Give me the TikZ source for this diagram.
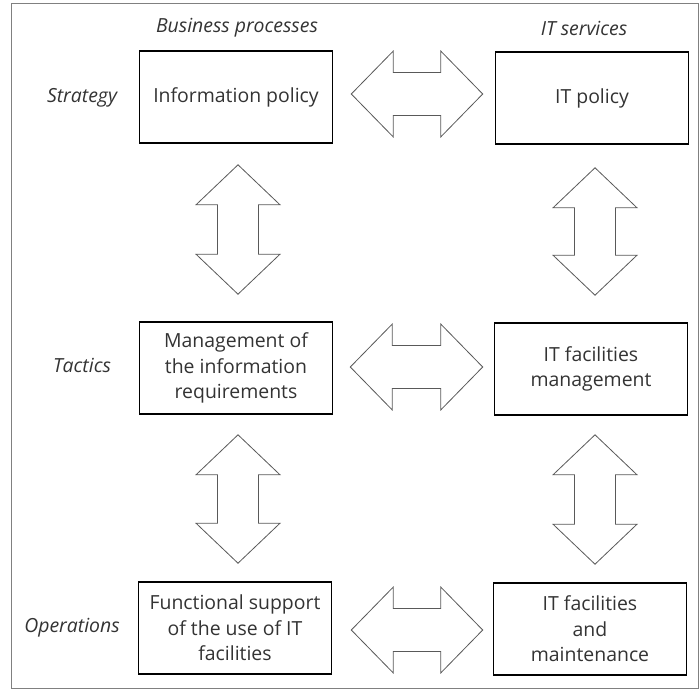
\documentclass[tikz,border=0pt]{standalone}
\usepackage{fontspec}
\setmainfont{Open Sans}
\usetikzlibrary{calc}

% Hollow double-headed block arrows between two tip points
\newcommand\hfat[2]{%
  \draw[fat] let \p1=(#1), \p2=(#2) in
    (\x1,\y1) -- (\x1+42bp,\y1+43bp) -- (\x1+42bp,\y1+21.5bp)
    -- (\x2-42bp,\y1+21.5bp) -- (\x2-42bp,\y1+43bp) -- (\x2,\y1)
    -- (\x2-42bp,\y1-43bp) -- (\x2-42bp,\y1-21.5bp)
    -- (\x1+42bp,\y1-21.5bp) -- (\x1+42bp,\y1-43bp) -- cycle;}
\newcommand\vfat[2]{%
  \draw[fat] let \p1=(#1), \p2=(#2) in
    (\x1,\y1) -- (\x1+42bp,\y1-40bp) -- (\x1+20.5bp,\y1-40bp)
    -- (\x1+20.5bp,\y2+40bp) -- (\x1+42bp,\y2+40bp) -- (\x1,\y2)
    -- (\x1-42bp,\y2+40bp) -- (\x1-20.5bp,\y2+40bp)
    -- (\x1-20.5bp,\y1-40bp) -- (\x1-42bp,\y1-40bp) -- cycle;}

\begin{document}
\begin{tikzpicture}[x=1bp,y=-1bp,
  box/.style={draw=black, line width=1.6bp, minimum width=193bp,
    minimum height=92bp, align=center, inner sep=0pt,
    font=\fontsize{19.5}{25.5}\selectfont, text=black!80},
  lbl/.style={font=\fontsize{19.5}{25.5}\selectfont\itshape, text=black!80},
  fat/.style={draw=black!65, line width=0.8bp, fill=white, line join=miter}]
\useasboundingbox (0,0) rectangle (700,691);
\draw[black!50, line width=1bp] (11,4) rectangle (698,688);

% column and row headings
\node[lbl] (bp)  at (237,28) {Business processes};
\node[lbl] (its) at (584,28) {IT services};
\node[lbl] (st)  at (82,98)  {Strategy};
\node[lbl] (tc)  at (82,365) {Tactics};
\node[lbl] (op)  at (72,628) {Operations};

% boxes
\node[box] (ip)   at (236,97)  {Information policy};
\node[box] (itp)  at (592,98)  {IT policy};
\node[box] (mir)  at (236,368) {Management of\\the information\\requirements};
\node[box] (itfm) at (591,369) {IT facilities\\management};
\node[box] (fs)   at (235,628) {Functional support\\of the use of IT\\facilities};
\node[box] (itfa) at (590,629) {IT facilities\\and\\maintenance};

% arrow tips
\coordinate (h1a) at ([xshift=18bp,yshift=3bp]ip.east);
\coordinate (h1b) at ([xshift=-12bp]itp.west);
\coordinate (h2a) at ([xshift=17bp,yshift=1bp]mir.east);
\coordinate (h2b) at ([xshift=-11bp]itfm.west);
\coordinate (h3a) at ([xshift=19bp,yshift=-2bp]fs.east);
\coordinate (h3b) at ([xshift=-10bp]itfa.west);
\coordinate (v1a) at ([xshift=2bp,yshift=-21bp]ip.south);
\coordinate (v1b) at ([xshift=2bp,yshift=27bp]mir.north);
\coordinate (v2a) at ([xshift=3bp,yshift=-23bp]itp.south);
\coordinate (v2b) at ([xshift=3bp,yshift=27bp]itfm.north);
\coordinate (v3a) at ([xshift=2bp,yshift=-20bp]mir.south);
\coordinate (v3b) at ([xshift=2bp,yshift=18bp]fs.north);
\coordinate (v4a) at ([xshift=4bp,yshift=-19bp]itfm.south);
\coordinate (v4b) at ([xshift=4bp,yshift=18bp]itfa.north);

% block arrows
\hfat{h1a}{h1b}
\hfat{h2a}{h2b}
\hfat{h3a}{h3b}
\vfat{v1a}{v1b}
\vfat{v2a}{v2b}
\vfat{v3a}{v3b}
\vfat{v4a}{v4b}
\end{tikzpicture}
\end{document}
